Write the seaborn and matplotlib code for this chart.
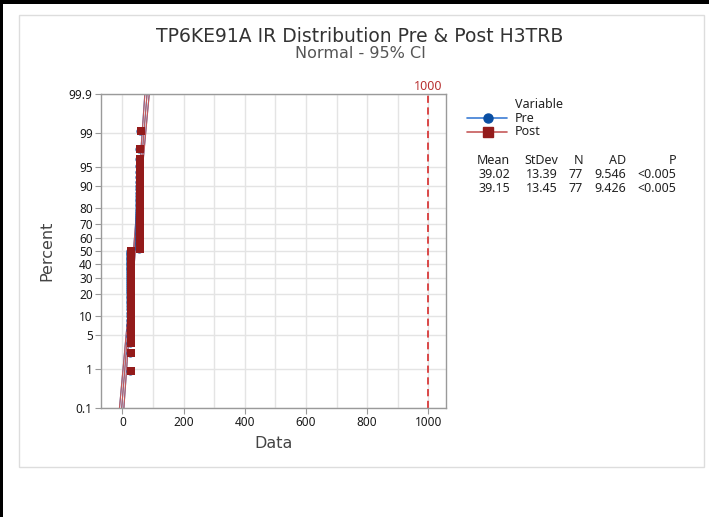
import numpy as np
import pandas as pd
import matplotlib
matplotlib.use("Agg")
import matplotlib.pyplot as plt
import seaborn as sns
from matplotlib.patches import Rectangle
from matplotlib.lines import Line2D
from statistics import NormalDist

# DATA (heavily tied values -> level + count)
# -----------------------------------------------------------------------------
pre_levels = [25, 53, 58]
pre_counts = [39, 37, 1]
post_levels = [28, 56, 60]
post_counts = [39, 37, 1]

variables = ["Pre", "Post"]
mean_vals = [39.02, 39.15]
stdev_vals = [13.39, 13.45]
n_vals = [77, 77]
ad_vals = [9.546, 9.426]
p_vals = ["<0.005", "<0.005"]

percent_ticks = [0.1, 1, 5, 10, 20, 30, 40, 50, 60, 70, 80, 90, 95, 99, 99.9]
data_ticks = [0, 200, 400, 600, 800, 1000]
ref_line = 1000

pre_marker, pre_line = "#0A4FA3", "#3C7DD4"
post_marker, post_line = "#931B1B", "#C65A5A"

W, H = 709, 517
nd = NormalDist()
WIDE = ["DejaVu Sans"]


def fx(px):
    return px / W


def fy(py):
    return 1 - py / H


def prob_table(levels, counts):
    vals = np.sort(np.repeat(levels, counts))
    n = len(vals)
    pct = (np.arange(1, n + 1) - 0.3) / (n + 0.4)  # median ranks
    z = [nd.inv_cdf(p) for p in pct]
    return pd.DataFrame({"value": vals, "z": z})


def fit_ci(mu, sd, n):
    p = np.linspace(0.001, 0.999, 300)
    z = np.array([nd.inv_cdf(q) for q in p])
    fit = mu + z * sd
    half = 1.96 * sd * np.sqrt(1.0 / n + z ** 2 / (2.0 * n))
    return z, fit, fit - half, fit + half


sns.set_theme(style="white")
plt.rcParams["font.family"] = ["Noto Sans", "DejaVu Sans"]

fig = plt.figure(figsize=(W / 100, H / 100), dpi=100)
ax = fig.add_axes([fx(101), fy(408), fx(446) - fx(101), fy(94) - fy(408)])

# grid
for x in range(0, 1001, 100):
    ax.axvline(x, color="#e4e4e4", lw=1, zorder=0)
for p in percent_ticks:
    ax.axhline(nd.inv_cdf(p / 100), color="#e4e4e4", lw=1, zorder=0)

# fitted lines + CI, then points
series = [(pre_levels, pre_counts, pre_marker, pre_line, "o", 34),
          (post_levels, post_counts, post_marker, post_line, "s", 38)]
for i, (lv, ct, mc, lc, mk, sz) in enumerate(series):
    z, fit, lo, hi = fit_ci(mean_vals[i], stdev_vals[i], n_vals[i])
    for xs in (fit, lo, hi):
        sns.lineplot(x=xs, y=z, sort=False, estimator=None, color=lc, lw=0.8, ax=ax, zorder=2)
for i, (lv, ct, mc, lc, mk, sz) in enumerate(series):
    df = prob_table(lv, ct)
    sns.scatterplot(data=df, x="value", y="z", marker=mk, s=sz, color=mc,
                    linewidth=0, ax=ax, legend=False, zorder=3)

# reference line
ax.axvline(ref_line, color="#D83A3A", lw=1.3, ls=(0, (4, 2.5)), zorder=2)
ax.text(ref_line, 1.004, str(ref_line), transform=ax.get_xaxis_transform(),
        ha="center", va="bottom", color="#B83232", fontsize=9)

zmax = nd.inv_cdf(0.999)
ax.set_ylim(-zmax, zmax)
ax.set_xlim(-70, 1058)
ax.set_yticks([nd.inv_cdf(p / 100) for p in percent_ticks])
ax.set_yticklabels([str(p) for p in percent_ticks])
ax.set_xticks(data_ticks)
ax.tick_params(axis="both", labelsize=8.5, length=4, width=0.8, color="#999999",
               labelcolor="#1a1a1a", pad=2, direction="out", left=True, bottom=True)
for s in ax.spines.values():
    s.set_color("#9a9a9a")
    s.set_linewidth(1)

ax.set_xlabel("Data", fontsize=11.5, color="#444444", family=WIDE)
ax.set_ylabel("Percent", fontsize=11.5, color="#444444", family=WIDE)
ax.xaxis.label.set_va("center")
ax.yaxis.label.set_va("center")
ax.xaxis.set_label_coords(0.5, (408 - 444) / 314)
ax.yaxis.set_label_coords((47 - 101) / 345, 0.5)

# titles
fig.text(fx(360), fy(36), "TP6KE91A IR Distribution Pre & Post H3TRB", ha="center", va="center",
         fontsize=13.5, color="#333333", family=WIDE)
fig.text(fx(360), fy(54), "Normal - 95% CI", ha="center", va="center", fontsize=11.5,
         color="#555555", family=WIDE)

# legend
fig.text(fx(515), fy(104), "Variable", ha="left", va="center", fontsize=9, color="#222222")
for i, (lv, ct, mc, lc, mk, sz) in enumerate(series):
    y = fy(118 + 14 * i)
    fig.add_artist(Line2D([fx(467), fx(507)], [y, y], color=lc, lw=1.2, transform=fig.transFigure))
    fig.add_artist(Line2D([fx(488)], [y], marker=mk, ms=6.5, color=mc, lw=0, transform=fig.transFigure))
    fig.text(fx(515), y, variables[i], ha="left", va="center", fontsize=9, color="#222222")

# stats table
col_right = [510, 558, 583, 626, 676]
headers = ["Mean", "StDev", "N", "AD", "P"]
for j, h in enumerate(headers):
    fig.text(fx(col_right[j]), fy(161), h, ha="right", va="center", fontsize=9, color="#222222")
for i in range(len(variables)):
    row = ["%.2f" % mean_vals[i], "%.2f" % stdev_vals[i], str(n_vals[i]), "%.3f" % ad_vals[i], p_vals[i]]
    for j, t in enumerate(row):
        fig.text(fx(col_right[j]), fy(175 + 13.5 * i), t, ha="right", va="center", fontsize=9, color="#222222")

# panel frame and screenshot border
fig.add_artist(Rectangle((fx(19), fy(467)), fx(704) - fx(19), fy(15) - fy(467), fill=False,
                         ec="#dddddd", lw=1, transform=fig.transFigure))
fig.add_artist(Rectangle((0, fy(4)), 1, 4 / H, color="black", lw=0, transform=fig.transFigure))
fig.add_artist(Rectangle((0, 0), 2.5 / W, 1, color="black", lw=0, transform=fig.transFigure))

fig.savefig("out.png", dpi=100)
